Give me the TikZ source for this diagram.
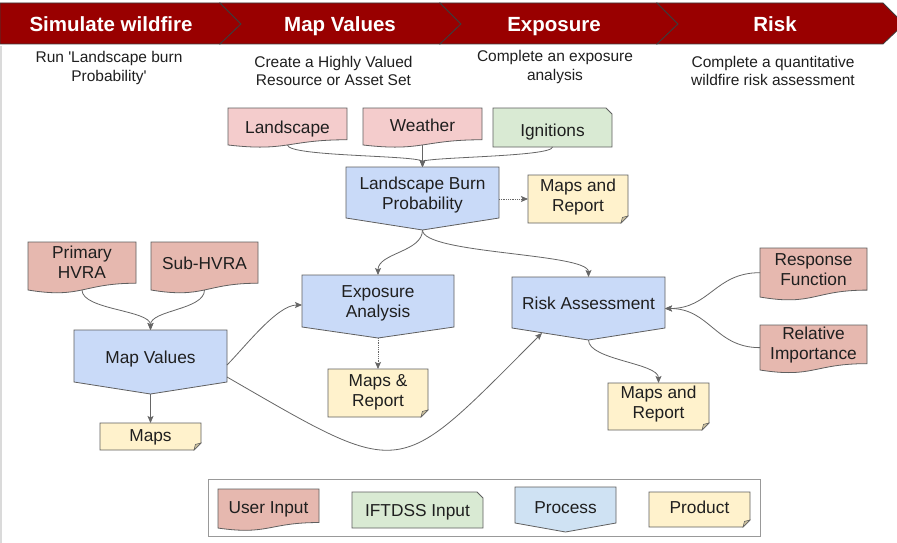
\documentclass[tikz,border=0pt]{standalone}
\usepackage{fontspec}
\setmainfont{Liberation Sans}
\usetikzlibrary{arrows.meta}
\definecolor{hdr}{HTML}{990000}
\definecolor{hdredge}{HTML}{3C3C3C}
\definecolor{pinkL}{HTML}{F4CCCC}
\definecolor{pinkD}{HTML}{E6B8AF}
\definecolor{greenI}{HTML}{D9EAD3}
\definecolor{blueP}{HTML}{C9DAF8}
\definecolor{blueL}{HTML}{CFE2F3}
\definecolor{prodfill}{HTML}{FFF2CC}
\definecolor{folddark}{HTML}{CDC29F}
\definecolor{shpedge}{HTML}{5F5F5F}
\definecolor{conncol}{HTML}{666666}
\definecolor{txtcol}{HTML}{1F1F1F}
\definecolor{framecol}{HTML}{999999}
\definecolor{leftcol}{HTML}{DADADA}

\newcommand\mkdoc[8]{% name, x0, top, x1, h, fill, text y, text
  \pgfmathsetmacro\rsXm{(#2+#4)/2}%
  \pgfmathsetmacro\rsYa{#3+0.802*#5}%
  \pgfmathsetmacro\rsYb{#3+1.108*#5}%
  \pgfmathsetmacro\rsYc{#3+0.934*#5}%
  \pgfmathsetmacro\rsYs{#3+0.933*#5}%
  \pgfmathsetmacro\rsYw{#3+0.47*#5}%
  \draw[shp,fill=#6] (#2,#3) -- (#4,#3) -- (#4,\rsYa) .. controls (\rsXm,\rsYa) and (\rsXm,\rsYb) .. (#2,\rsYc) -- cycle;
  \node[txt] (#1) at (\rsXm,#7) {#8};
  \coordinate (#1-s) at (\rsXm,\rsYs);
  \coordinate (#1-w) at (#2,\rsYw);
}
\newcommand\mksnip[8]{% name, x0, top, x1, bot, fill, text y, text
  \pgfmathsetmacro\rsXm{(#2+#4)/2}%
  \draw[shp,fill=#6] (#2,#3) -- ({#4-6},#3) -- (#4,{#3+6}) -- (#4,#5) -- (#2,#5) -- cycle;
  \node[txt] (#1) at (\rsXm,#7) {#8};
  \coordinate (#1-s) at (\rsXm,#5);
}
\newcommand\mkproc[9]{% name, x0, top, x1, yside, ypoint, fill, text y, text
  \pgfmathsetmacro\rsXm{(#2+#4)/2}%
  \pgfmathsetmacro\rsYw{(#3+#5)/2}%
  \draw[shp,fill=#7] (#2,#3) -- (#4,#3) -- (#4,#5) -- (\rsXm,#6) -- (#2,#5) -- cycle;
  \node[txt] (#1) at (\rsXm,#8) {#9};
  \coordinate (#1-n) at (\rsXm,#3);
  \coordinate (#1-s) at (\rsXm,#6);
  \coordinate (#1-e) at (#4,\rsYw);
  \coordinate (#1-w) at (#2,\rsYw);
}
\newcommand\mkprod[7]{% name, x0, top, x1, bot, text y, text
  \pgfmathsetmacro\rsXm{(#2+#4)/2}%
  \pgfmathsetmacro\rsYw{(#3+#5)/2}%
  \draw[shp,fill=prodfill] (#2,#3) -- (#4,#3) -- (#4,{#5-7}) -- ({#4-7},#5) -- (#2,#5) -- cycle;
  \draw[shp,fill=folddark,line width=0.5pt] ({#4-7},#5) -- ({#4-5.6},{#5-5.6}) -- (#4,{#5-7}) -- cycle;
  \node[txt] (#1) at (\rsXm,#6) {#7};
  \coordinate (#1-n) at (\rsXm,#3);
  \coordinate (#1-w) at (#2,\rsYw);
}

\begin{document}
\begin{tikzpicture}[x=1pt,y=-1pt,
  shp/.style={draw=shpedge,line width=0.8pt,line join=miter},
  txt/.style={font=\fontsize{17.3}{20}\selectfont,text=txtcol,align=center,inner sep=0pt,
    execute at begin node=\strut,execute at end node=\strut,yshift=-2.2pt},
  subtxt/.style={font=\fontsize{15.5}{18.5}\selectfont,text=txtcol,align=center,inner sep=0pt,
    execute at begin node=\strut,execute at end node=\strut,yshift=-1.85pt},
  hdrtxt/.style={font=\bfseries\fontsize{20.5}{24}\selectfont,text=white,inner sep=0pt,
    execute at begin node=\strut,yshift=-2.5pt},
  hdrshape/.style={fill=hdr,draw=hdredge,line width=0.8pt,line join=miter},
  conn/.style={draw=conncol,line width=0.8pt,-{Stealth[length=7pt,width=6pt,inset=1.5pt]}},
  dotconn/.style={conn,densely dotted}]

\fill[white] (0,0) rectangle (897,543);
\useasboundingbox (0,0) rectangle (897,543);

% left faint line
\draw[leftcol,line width=1.5pt] (1,46) -- (1,543);

% header chevrons
\draw[hdrshape] (0,3) -- (220,3) -- (241,24) -- (220,44) -- (0,44) -- cycle;
\draw[hdrshape] (220,3) -- (440,3) -- (461,24) -- (440,44) -- (220,44) -- (241,24) -- cycle;
\draw[hdrshape] (440,3) -- (657,3) -- (678,24) -- (657,44) -- (440,44) -- (461,24) -- cycle;
\draw[hdrshape] (657,3) -- (883,3) -- (904,24) -- (883,44) -- (657,44) -- (678,24) -- cycle;
\node[hdrtxt] (h1) at (111,24.5) {Simulate wildfire};
\node[hdrtxt] (h2) at (340,24.5) {Map Values};
\node[hdrtxt] (h3) at (554,24.5) {Exposure};
\node[hdrtxt] (h4) at (775,24.5) {Risk};

% header descriptions
\node[subtxt] (d1) at (109,67.5) {Run \textquotesingle Landscape burn\\Probability\textquotesingle};
\node[subtxt] (d2) at (333.5,72) {Create a Highly Valued\\Resource or Asset Set};
\node[subtxt] (d3) at (555,66.5) {Complete an exposure\\analysis};
\node[subtxt] (d4) at (773,72) {Complete a quantitative\\wildfire risk assessment};

% inputs
\mkdoc{landscape}{228}{108}{347}{39.6}{pinkL}{127}{Landscape}
\mkdoc{weather}{363}{108}{482}{39.6}{pinkL}{125}{Weather}
\mksnip{ignitions}{493}{108}{612}{147}{greenI}{130}{Ignitions}
\mkdoc{primary}{28}{242}{136}{51.4}{pinkD}{263}{Primary\\HVRA}
\mkdoc{subhvra}{151}{242}{258}{51.4}{pinkD}{263}{Sub-HVRA}
\mkdoc{response}{760}{248}{867}{52.5}{pinkD}{270.5}{Response\\Function}
\mkdoc{relimp}{760}{325}{867}{48.2}{pinkD}{344.5}{Relative\\Importance}

% processes
\mkproc{lbp}{346}{167}{499}{218}{230}{blueP}{194}{Landscape Burn\\Probability}
\mkproc{mapval}{74}{330}{227}{382}{394}{blueP}{357}{Map Values}
\mkproc{expo}{302}{275}{454}{327}{338}{blueP}{302}{Exposure\\Analysis}
\mkproc{risk}{512}{277}{665}{328}{340}{blueP}{303}{Risk Assessment}
\coordinate (risk-sw) at (542,333);

% products
\mkprod{mr1}{528}{175}{628}{223}{196.5}{Maps and\\Report}
\mkprod{maps}{100}{423}{201}{450}{435}{Maps}
\mkprod{mr2}{328}{369}{428}{417}{391}{Maps \&\\Report}
\mkprod{mr3}{608}{383}{709}{430}{403}{Maps and\\Report}

% connectors
\draw[conn] (landscape-s) to[out=-90,in=90,distance=12pt] (lbp-n);
\draw[conn] (weather-s) -- (lbp-n);
\draw[conn] (ignitions-s) to[out=-90,in=90,distance=10pt] (lbp-n);
\draw[dotconn] (lbp-e |- mr1-w) -- (mr1-w);
\draw[conn] (lbp-s) to[out=-90,in=90,distance=22pt] (expo-n);
\draw[conn] (lbp-s) to[out=-90,in=90,distance=24pt] (risk-n);
\draw[conn] (primary-s) to[out=-90,in=90,distance=20pt] (mapval-n);
\draw[conn] (subhvra-s) to[out=-90,in=90,distance=20pt] (mapval-n);
\draw[conn] (mapval-s) -- (maps-n);
\draw[conn] ([yshift=-9pt]mapval-e) to[out=45,in=180,distance=25pt] ([yshift=-4pt]expo-w);
\draw[conn] ([yshift=-21pt]mapval-e) to[out=-30,in=-135,distance=208pt] (risk-sw);
\draw[dotconn] (expo-s) -- (mr2-n);
\draw[conn] (risk-s) to[out=-90,in=90,distance=20pt] (mr3-n);
\draw[conn] (response-w) to[out=180,in=0,distance=45pt] ([yshift=-6pt]risk-e);
\draw[conn] (relimp-w) to[out=180,in=0,distance=45pt] ([yshift=-6pt]risk-e);

% legend
\node[draw=framecol,line width=0.8pt,minimum width=552pt,minimum height=57pt,anchor=north west,inner sep=0pt] (legend) at (208,479) {};
\mkdoc{leguser}{218}{489}{319}{41.8}{pinkD}{507}{User Input}
\mksnip{legift}{352}{492}{483}{528}{greenI}{510}{IFTDSS Input}
\mkproc{legproc}{515}{487}{616}{523}{532}{blueL}{507}{Process}
\mkprod{legprod}{649}{492}{750}{527}{507}{Product}

\end{tikzpicture}
\end{document}
